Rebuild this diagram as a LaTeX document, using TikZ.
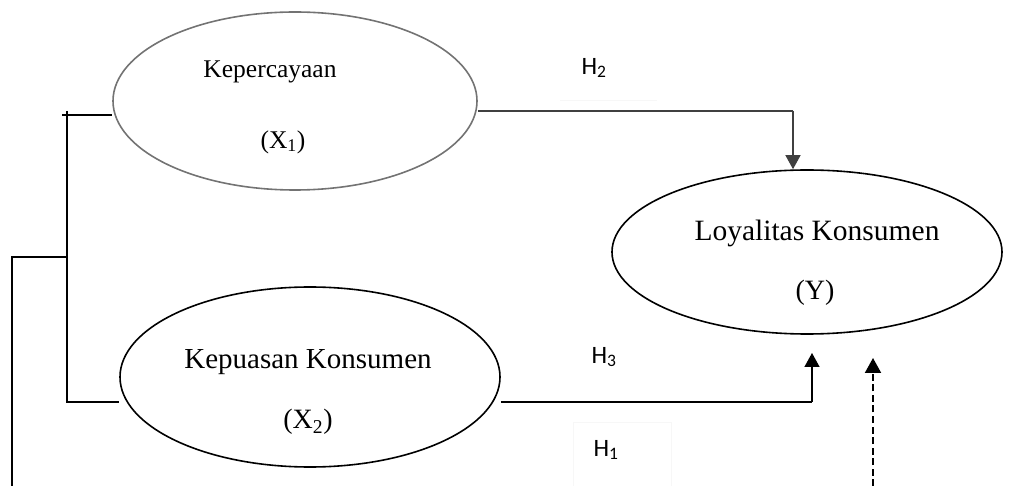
\documentclass[tikz,border=0pt]{standalone}
\usepackage{fontspec}
\setmainfont{Liberation Serif}
\newfontfamily\hfont{Carlito}
\usetikzlibrary{shapes.geometric,arrows.meta}

\tikzset{
  construct/.style={draw, ellipse, line width=1.6pt, inner sep=0pt},
  label/.style={inner sep=0pt, anchor=center},
  hyp/.style={inner sep=0pt, anchor=center, font=\hfont\fontsize{25}{25}\selectfont},
  wire/.style={line width=1.4pt},
  arrow/.style={wire, -{Triangle[width=15pt,length=14pt]}},
  dasharrow/.style={line width=2pt, dash pattern=on 7pt off 3.5pt,
                    -{Triangle[width=16pt,length=15pt]}},
}

\begin{document}
\begin{tikzpicture}[x=1pt,y=-1pt]
\useasboundingbox (0,0) rectangle (1018,486);

% latent constructs
\node[construct, draw=black!55, minimum width=364pt, minimum height=178pt] (x1) at (295,101) {};
\node[construct, minimum width=380pt, minimum height=180pt] (x2) at (310,377) {};
\node[construct, minimum width=390pt, minimum height=164pt] (y) at (807,252) {};

% construct captions
\node[label, font=\fontsize{25.5}{25.5}\selectfont] (x1name) at (270,72) {Kepercayaan};
\node[label, font=\fontsize{25.5}{25.5}\selectfont] (x1code) at (283,142) {(X\textsubscript{1})};
\node[label, font=\fontsize{29}{29}\selectfont] (x2name) at (308,362) {Kepuasan Konsumen};
\node[label, font=\fontsize{28}{28}\selectfont] (x2code) at (308,422) {(X\textsubscript{2})};
\node[label, font=\fontsize{29.5}{29.5}\selectfont] (yname) at (817,233) {Loyalitas Konsumen};
\node[label, font=\fontsize{28}{28}\selectfont] (ycode) at (815,293) {(Y)};

% hypothesis labels
\node[hyp] (h2) at (594,68) {H\textsubscript{2}};
\node[hyp] (h3) at (604,357) {H\textsubscript{3}};
\node[hyp] (h1) at (606,450) {H\textsubscript{1}};
\draw[black!3, line width=0.6pt] (573,486) -- (573,422) -- (671,422) -- (671,486);
\draw[black!3, line width=0.6pt] (560,100) -- (657,100);

% joining points
\coordinate (tick) at (62,115);
\coordinate (busTop) at (67,111);
\coordinate (busMid) at (67,257);
\coordinate (busLow) at (67,402);
\coordinate (outerTop) at (12,257);
\coordinate (outerEnd) at (12,486);
\coordinate (h2turn) at (793,111);
\coordinate (h3turn) at (812,402);
\coordinate (h3tip) at (812,353);
\coordinate (h1foot) at (873,486);
\coordinate (h1tip) at (873,358);

% left bracket joining both predictors
\draw[wire] (tick) -- (tick -| x1.west);
\draw[wire] (busTop) -- (busLow) -- (busLow -| x2.west);
\draw[wire] (outerEnd) -- (outerTop) -- (busMid);

% H2: trust -> loyalty
\draw[wire, draw=black!75] (x1.east |- h2turn) -- (h2turn);
\draw[arrow, draw=black!75, fill=black] (h2turn) -- (h2turn |- y.north);

% H3: satisfaction -> loyalty
\draw[wire] (x2.east |- h3turn) -- (h3turn);
\draw[arrow] (h3turn) -- (h3tip);

% H1
\draw[dasharrow] (h1foot) -- (h1tip);
\end{tikzpicture}
\end{document}
